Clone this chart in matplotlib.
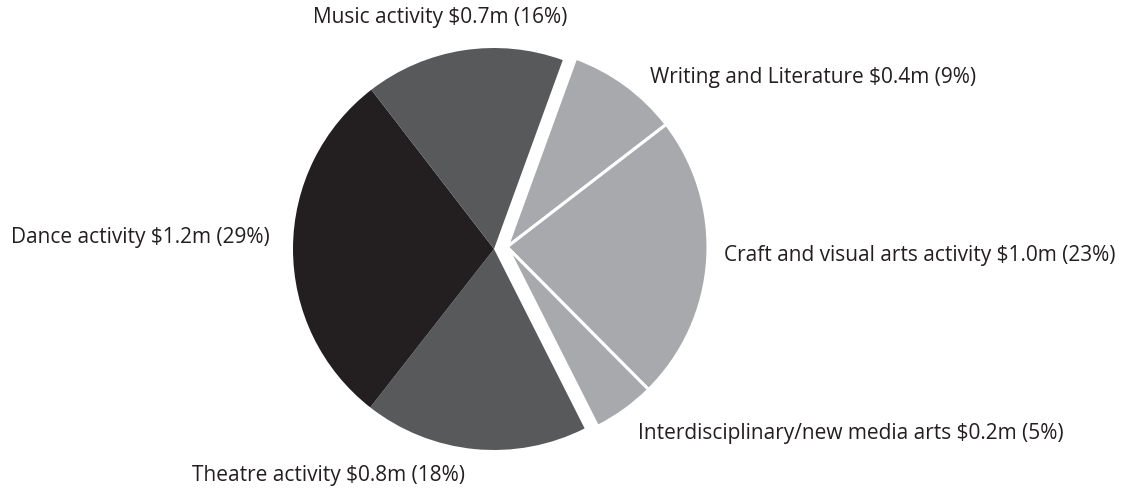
import matplotlib.pyplot as plt

# data
categories = ['Writing and Literature', 'Craft and visual arts activity',
              'Interdisciplinary/new media arts', 'Theatre activity',
              'Dance activity', 'Music activity']
amounts = ['$0.4m', '$1.0m', '$0.2m', '$0.8m', '$1.2m', '$0.7m']
shares = [9, 23, 5, 18, 29, 16]
colors = ['#a7a9ac', '#a7a9ac', '#a7a9ac', '#58595b', '#231f20', '#58595b']
light_group = [True, True, True, False, False, False]

plt.rcParams['font.family'] = ['Open Sans', 'DejaVu Sans']

fig = plt.figure(figsize=(11.31, 4.92), dpi=100)
ax = fig.add_axes([0, 0, 1, 1])

cx, cy, r = 494, 243, 201
wedges, _ = ax.pie(shares, colors=colors, startangle=70, counterclock=False,
                   center=(cx, cy), radius=r, frame=True,
                   wedgeprops=dict(edgecolor='white', linewidth=0))
ax.set_xlim(0, 1131)
ax.set_ylim(0, 492)
ax.axis('off')

# the light group is pulled out together as one block
for w, light in zip(wedges, light_group):
    if light:
        w.set_center((cx + 13, cy + 2))
        w.set_linewidth(2.2)

# label layout: (x, y in pixels from top-left, alignment)
label_pos = [(650, 78, 'left'), (724, 256, 'left'), (638, 434, 'left'),
             (192, 476, 'left'), (270, 238, 'right'), (440, 18, 'center')]
for cat, amt, pct, (lx, ly, ha) in zip(categories, amounts, shares, label_pos):
    ax.text(lx, 492 - ly, f'{cat} {amt} ({pct}%)', ha=ha, va='center',
            fontsize=15, color='#231f20')

plt.savefig('out.png', dpi=100)
